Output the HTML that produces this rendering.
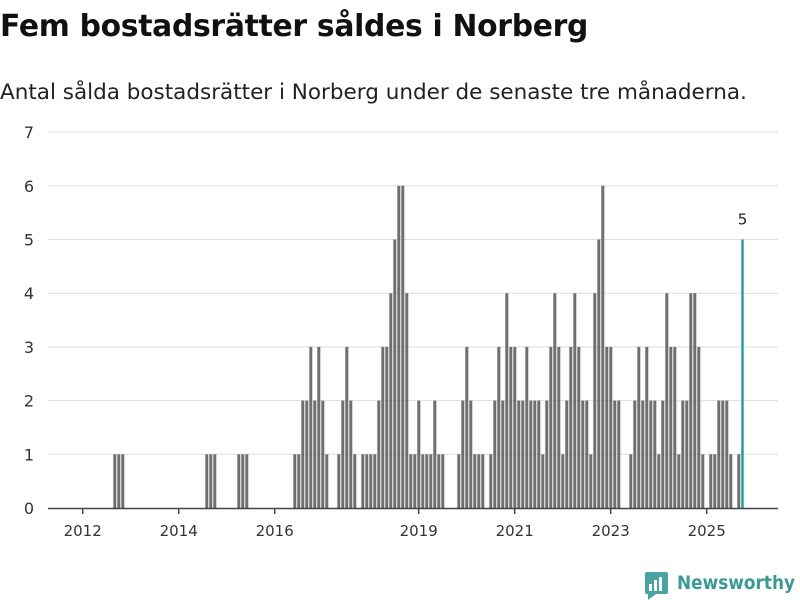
<!DOCTYPE html>
<html><head><meta charset="utf-8">
<style>
body{margin:0;background:#fff;width:800px;height:600px;overflow:hidden;font-family:"Liberation Sans","DejaVu Sans",sans-serif;}
#title{position:absolute;left:0;top:9px;font-size:29.8px;font-weight:bold;color:#111;letter-spacing:-0.3px;font-family:"DejaVu Sans","Liberation Sans",sans-serif;white-space:nowrap;}
#sub{position:absolute;left:0;top:80px;font-size:21.5px;color:#222;font-family:"DejaVu Sans","Liberation Sans",sans-serif;white-space:nowrap;}
svg{position:absolute;left:0;top:0;}
</style></head><body>
<div id="title">Fem bostadsrätter såldes i Norberg</div>
<div id="sub">Antal sålda bostadsrätter i Norberg under de senaste tre månaderna.</div>
<svg id="chart" width="800" height="600"></svg>
<script>
const startYear = 2012; // index 0 = Jan 2012
const values = [
0,0,0,0,0,0,0,1,1,1, 0,0,0,0,0,0,0,0,0,0, 0,0,0,0,0,0,0,0,0,0,
1,1,1,0,0,0,0,0,1,1, 1,0,0,0,0,0,0,0,0,0, 0,0,
1,1,2,2,3,2,3,2,1,0,0,
1,2,3,2,1,0,
1,1,1,1,2,3,3,4,5,6,6,4,1,1,2,1,1,1,2,1,1,
0,0,0,
1,2,3,2,1,1,1,0,
1,2,3,2,4,3,3,2,2,3,2,2,2,1,2,3,4,3,1,2,3,4,3,2,2,1,4,5,6,3,3,2,2,
0,0,
1,2,3,2,3,2,2,1,2,4,3,3,1,2,2,4,4,3,1,0,
1,1,2,2,2,1,0,1,
5];
const yTicks = [0,1,2,3,4,5,6,7];
const xTickYears = [2012,2014,2016,2019,2021,2023,2025];

const NS='http://www.w3.org/2000/svg';
const svg=document.getElementById('chart');
const y0=508, yUnit=53.7;
function yScale(v){return y0 - v*yUnit;}
function xScale(i){return 85.3 + 4*i;}
function xYear(yr){return 82.7 + 48*(yr-startYear);}
function mk(tag,attrs){const e=document.createElementNS(NS,tag);for(const k in attrs)e.setAttribute(k,attrs[k]);svg.appendChild(e);return e;}

yTicks.forEach(t=>{
  if(t>0){
    const g=mk('line',{x1:48,x2:778,y1:yScale(t),y2:yScale(t),stroke:'#dedede','stroke-width':1});
    
    
  }
  const l=mk('text',{x:34,y:yScale(t)+6,'text-anchor':'end','font-size':16,fill:'#333','font-family':'DejaVu Sans, Liberation Sans, sans-serif'});
  l.textContent=t;
  
  
});
const last=values.length-1;
values.forEach((v,i)=>{
  if(v<=0) return;
  const b=mk('rect',{x:xScale(i),y:yScale(v),width:i===last?2.4:3,height:v*yUnit,fill:i===last?'#1a9e96':'#6f6f72'});
  
  
});
const lv=mk('text',{x:xScale(last)+1.2,y:yScale(values[last])-15,'text-anchor':'middle','font-size':15,fill:'#222','font-family':'DejaVu Sans, Liberation Sans, sans-serif'});
lv.textContent=values[last];


const ax=mk('line',{x1:48,x2:778,y1:508.5,y2:508.5,stroke:'#444','stroke-width':1.5});


xTickYears.forEach(yr=>{
  const x=xYear(yr);
  const t=mk('line',{x1:x,x2:x,y1:508,y2:514,stroke:'#444','stroke-width':1.5});
  
  
  const l=mk('text',{x:x,y:536,'text-anchor':'middle','font-size':15,fill:'#333','font-family':'DejaVu Sans, Liberation Sans, sans-serif'});
  l.textContent=yr;
  
  
});
</script>
<svg width="800" height="600" style="pointer-events:none">
  <rect x="645" y="572" width="23" height="22" rx="2" fill="#4aa3a0"/>
  <polygon points="648,594 656,594 648,600" fill="#4aa3a0"/>
  <rect x="649" y="584" width="3" height="7" fill="#fff"/>
  <rect x="654" y="580" width="3" height="11" fill="#fff"/>
  <rect x="659" y="577" width="3" height="14" fill="#fff"/>
  <text x="677" y="589" font-size="19" font-weight="bold" fill="#3a9a97" textLength="118" lengthAdjust="spacingAndGlyphs" font-family="DejaVu Sans, Liberation Sans, sans-serif">Newsworthy</text>
</svg>
</body></html>
